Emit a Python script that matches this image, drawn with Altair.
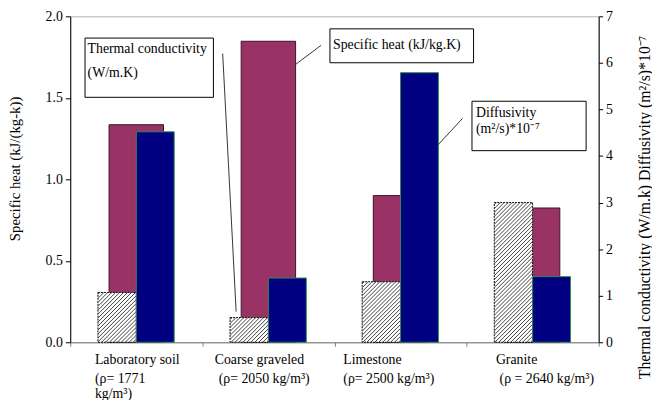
import altair as alt
import pandas as pd

# ---------------- data ----------------
categories = ["Laboratory soil", "Coarse graveled", "Limestone", "Granite"]
specific_heat = [1.335, 1.847, 0.90, 0.824]          # left axis, kJ/(kg-k)
thermal_conductivity = [1.07, 0.53, 1.30, 3.0]       # right axis, W/m.K
diffusivity = [4.52, 1.38, 5.79, 1.41]               # right axis, (m2/s)*1e-7
label_lines = [
    ["Laboratory soil", "(ρ= 1771", "kg/m³)"],
    ["Coarse graveled", "(ρ= 2050 kg/m³)"],
    ["Limestone", "(ρ= 2500 kg/m³)"],
    ["Granite", "(ρ = 2640 kg/m³)"],
]
box_texts = [
    ["Thermal conductivity", "(W/m.K)"],
    ["Specific heat (kJ/kg.K)"],
    ["Diffusivity", "(m²/s)*10⁻⁷"],
]

# ---------------- layout ----------------
PLOT_W, PLOT_H = 535, 330
Y_RIGHT_MAX = 7
FONT = "'Liberation Serif', 'Times New Roman', serif"
HATCH_LEFT, NAVY_RIGHT, MAROON_HALF = 0.29, 0.287, 0.206
HATCH_PERIOD = 4.0  # px between hatch lines (horizontal)
label_offsets = [[0.187, 0.187, 0.187], [0.094, 0.124], [0.067, 0.067], [0.222, 0.25]]
label_line_y = [348, 367, 382]
# annotation boxes (x0, x1, y0, y1) in x-units / right-axis units
box_pos = [(0.112, 1.084, 5.261, 6.533), (1.966, 3.053, 6.003, 6.731), (3.041, 3.905, 4.115, 5.176)]
box_text_pos = [[(0.131, 6.306), (0.131, 5.791)], [(1.989, 6.378)], [(3.071, 4.927), (3.071, 4.575)]]
leader_pos = [(1.154, 6.2, 1.256, 0.658), (1.70, 5.954, 1.899, 6.378), (2.778, 4.221, 2.970, 4.809)]

df = pd.DataFrame({
    "cat": categories,
    "idx": range(len(categories)),
    "sh": specific_heat,
    "tc": thermal_conductivity,
    "dif": diffusivity,
})
df["c"] = df["idx"] + 0.5
df["h0"] = df["c"] - HATCH_LEFT
df["h1"] = df["c"]
df["n0"] = df["c"]
df["n1"] = df["c"] + NAVY_RIGHT
df["m0"] = df["c"] - MAROON_HALF
df["m1"] = df["c"] + MAROON_HALF

# hatch lines ("/" direction) inside each thermal-conductivity bar, derived from the bar extents
px_per_x = PLOT_W / 4
px_per_y = PLOT_H / Y_RIGHT_MAX
hatch_rows = []
for _, r in df.iterrows():
    w = (r["h1"] - r["h0"]) * px_per_x
    h = r["tc"] * px_per_y
    c = HATCH_PERIOD / 2
    while c < w + h:
        xa, xb = max(0.0, c - h), min(w, c)
        ya, yb = c - xa, c - xb  # downward from bar top
        hatch_rows.append({
            "xa": r["h0"] + xa / px_per_x, "ya": r["tc"] - ya / px_per_y,
            "xb": r["h0"] + xb / px_per_x, "yb": r["tc"] - yb / px_per_y,
        })
        c += HATCH_PERIOD
hatch_df = pd.DataFrame(hatch_rows)

xs = alt.Scale(domain=[0, 4], nice=False, zero=False)
x_axis = alt.Axis(values=[0, 1, 2, 3, 4], labels=False, tickSize=4, tickColor="#808080",
                  domainColor="#808080", grid=False, title=None)

left_axis = alt.Axis(orient="left", values=[0, 0.5, 1, 1.5, 2], format=".1f", grid=False,
                     domainColor="black", tickColor="black", tickSize=5, labelPadding=3,
                     labelFontSize=14, title="Specific heat (kJ/(kg-k))", titleFontSize=15,
                     titleX=-56, titleY=154, titleAngle=270, titleAlign="center",
                     titleBaseline="middle")
right_scale = alt.Scale(domain=[0, Y_RIGHT_MAX], nice=False)
right_axis = alt.Axis(orient="right", values=list(range(8)), format="d", grid=False,
                      domainColor="black", tickColor="black", tickSize=4, labelPadding=3,
                      labelFontSize=14,
                      title="Thermal conductivity (W/m.k)  Diffusivity (m²/s)*10⁻⁷",
                      titleFontSize=16, titleX=46, titleY=193, titleAngle=270,
                      titleAlign="center", titleBaseline="middle")


def X(field):
    return alt.X(f"{field}:Q", scale=xs, axis=x_axis)


def YR(field):
    return alt.Y(f"{field}:Q", scale=right_scale, axis=right_axis)


maroon = alt.Chart(df).mark_rect(fill="#993366", stroke="#3a1428", strokeWidth=1).encode(
    x=X("m0"), x2="m1",
    y=alt.Y("sh:Q", scale=alt.Scale(domain=[0, 2], nice=False), axis=left_axis),
    y2=alt.datum(0),
)

hatched_fill = alt.Chart(df).mark_rect(fill="white", stroke="black", strokeWidth=1,
                                       strokeDash=[2, 1]).encode(
    x=X("h0"), x2="h1", y=YR("tc"), y2=alt.datum(0))

hatch_lines = alt.Chart(hatch_df).mark_rule(color="#404040", strokeWidth=1).encode(
    x=X("xa"), x2="xb", y=YR("ya"), y2="yb")

navy = alt.Chart(df).mark_rect(fill="#000080", stroke="#2e8b57", strokeWidth=1).encode(
    x=X("n0"), x2="n1", y=YR("dif"), y2=alt.datum(0))

leaders = pd.DataFrame(leader_pos, columns=["xa", "ya", "xb", "yb"])
leader_lines = alt.Chart(leaders).mark_rule(color="#333333", strokeWidth=1).encode(
    x=X("xa"), x2="xb", y=YR("ya"), y2="yb")

boxes = pd.DataFrame(box_pos, columns=["x0", "x1", "y0", "y1"])
box_rects = alt.Chart(boxes).mark_rect(fill="white", stroke="black", strokeWidth=1).encode(
    x=X("x0"), x2="x1", y=YR("y0"), y2="y1")

bt_rows = []
for lines, poss in zip(box_texts, box_text_pos):
    for t, (bx, by) in zip(lines, poss):
        bt_rows.append({"bx": bx, "by": by, "t": t})
bt = pd.DataFrame(bt_rows)
box_labels = alt.Chart(bt).mark_text(align="left", baseline="middle", font=FONT, fontSize=14,
                                     color="black").encode(x=X("bx"), y=YR("by"), text="t:N")

right_layers = [hatched_fill, hatch_lines, navy, leader_lines, box_rects, box_labels]

# category labels under x axis
for j, ypx in enumerate(label_line_y):
    rows = []
    for i, lines in enumerate(label_lines):
        if j < len(lines):
            rows.append({"lx": i + label_offsets[i][j], "t": lines[j]})
    if rows:
        right_layers.append(
            alt.Chart(pd.DataFrame(rows)).mark_text(align="left", baseline="middle", font=FONT,
                                                    fontSize=14, color="black").encode(
                x=X("lx"), y=alt.value(ypx), text="t:N")
        )

right = alt.layer(*right_layers)

chart = alt.layer(maroon, right).resolve_scale(y="independent").properties(
    width=PLOT_W, height=PLOT_H,
    padding={"left": 63, "top": 6, "right": 54, "bottom": 56},
    autosize=alt.AutoSizeParams(type="none"),
).configure_view(stroke="#b0b0b0", strokeWidth=1).configure_axis(
    labelFont=FONT, titleFont=FONT, labelColor="black", titleColor="black",
    titleFontWeight="normal",
)

chart.save("out.html", embed_options={"renderer": "svg", "actions": False})
